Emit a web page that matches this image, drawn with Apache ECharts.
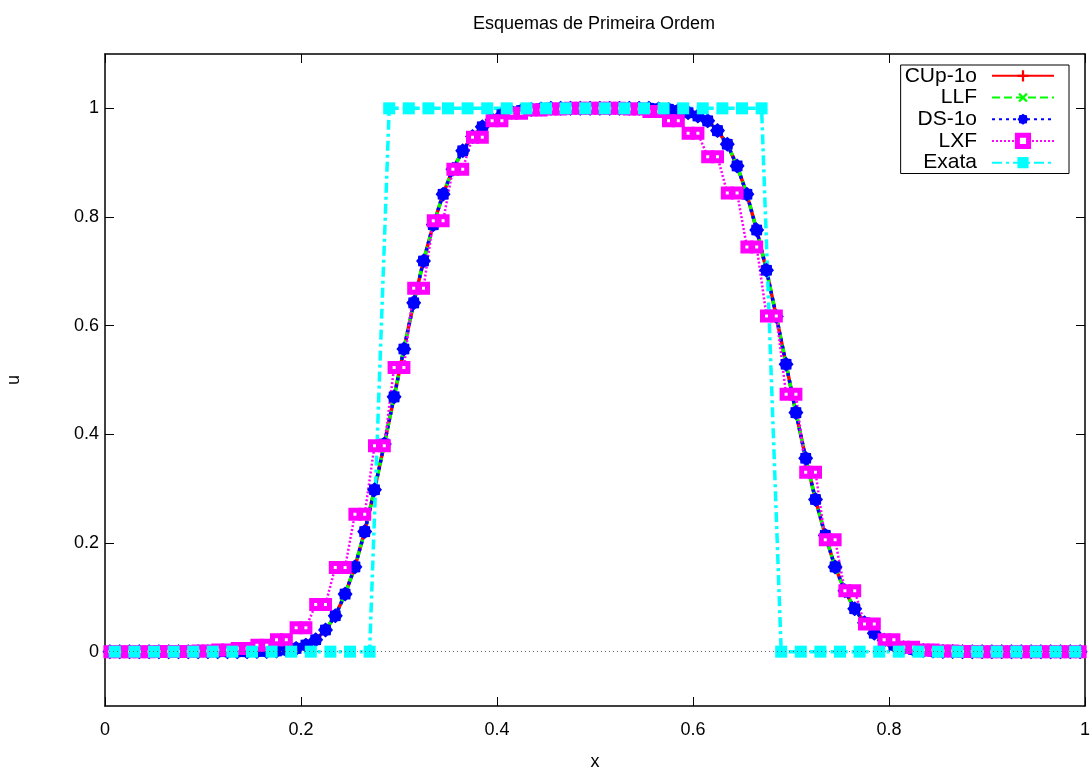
<!DOCTYPE html>
<html>
<head>
    <meta charset="utf-8"/>
    <style>
        html, body {
            padding: 0;
            margin: 0;
            background: #fff;
        }

        #main {
            width: 1092px;
            height: 772px;
        }
    </style>
    <script src="https://cdn.jsdelivr.net/npm/echarts@6/dist/echarts.min.js"></script>
</head>
<body>
<div id="main"></div>
<script>
    // malha de 100 celulas (centros)
    var xMalha = [
        0.005, 0.015, 0.025, 0.035, 0.045, 0.055, 0.065, 0.075, 0.085, 0.095,
        0.105, 0.115, 0.125, 0.135, 0.145, 0.155, 0.165, 0.175, 0.185, 0.195,
        0.205, 0.215, 0.225, 0.235, 0.245, 0.255, 0.265, 0.275, 0.285, 0.295,
        0.305, 0.315, 0.325, 0.335, 0.345, 0.355, 0.365, 0.375, 0.385, 0.395,
        0.405, 0.415, 0.425, 0.435, 0.445, 0.455, 0.465, 0.475, 0.485, 0.495,
        0.505, 0.515, 0.525, 0.535, 0.545, 0.555, 0.565, 0.575, 0.585, 0.595,
        0.605, 0.615, 0.625, 0.635, 0.645, 0.655, 0.665, 0.675, 0.685, 0.695,
        0.705, 0.715, 0.725, 0.735, 0.745, 0.755, 0.765, 0.775, 0.785, 0.795,
        0.805, 0.815, 0.825, 0.835, 0.845, 0.855, 0.865, 0.875, 0.885, 0.895,
        0.905, 0.915, 0.925, 0.935, 0.945, 0.955, 0.965, 0.975, 0.985, 0.995
    ];

    // CUp-1o, LLF e DS-1o ficam sobrepostos na figura
    var uCUp = [
        0, 0, 0, 0, 0, 0, 0, 0, 0, 0,
        0, 0, 0, 0, 0, 0.0002, 0.0005, 0.0012, 0.003, 0.006,
        0.012, 0.022, 0.040, 0.066, 0.106, 0.156, 0.221, 0.298, 0.382, 0.469,
        0.557, 0.642, 0.719, 0.786, 0.842, 0.888, 0.922, 0.948, 0.966, 0.979,
        0.988, 0.993, 0.996, 0.998, 0.999, 1, 1, 1, 1, 1,
        1, 1, 1, 1, 1, 1, 0.999, 0.998, 0.996, 0.992,
        0.986, 0.977, 0.959, 0.934, 0.894, 0.842, 0.776, 0.702, 0.617, 0.529,
        0.440, 0.356, 0.280, 0.214, 0.156, 0.112, 0.079, 0.053, 0.034, 0.021,
        0.012, 0.007, 0.004, 0.002, 0.001, 0.0005, 0.0002, 0, 0, 0,
        0, 0, 0, 0, 0, 0, 0, 0, 0, 0
    ];
    var uLLF = uCUp;
    var uDS = uCUp;

    // LXF: valores repetidos aos pares (desacoplamento par-impar)
    var uLXF = [
        0, 0, 0, 0, 0, 0.0001, 0.0001, 0.0004, 0.0004, 0.001,
        0.001, 0.003, 0.003, 0.006, 0.006, 0.012, 0.012, 0.022, 0.022, 0.044,
        0.044, 0.087, 0.087, 0.155, 0.155, 0.253, 0.253, 0.379, 0.379, 0.523,
        0.523, 0.669, 0.669, 0.793, 0.793, 0.888, 0.888, 0.947, 0.947, 0.977,
        0.977, 0.991, 0.991, 0.997, 0.997, 0.999, 0.999, 1, 1, 1,
        1, 1, 1, 0.999, 0.999, 0.994, 0.994, 0.977, 0.977, 0.954,
        0.954, 0.911, 0.911, 0.844, 0.844, 0.745, 0.745, 0.618, 0.618, 0.474,
        0.474, 0.330, 0.330, 0.206, 0.206, 0.112, 0.112, 0.051, 0.051, 0.022,
        0.022, 0.008, 0.008, 0.003, 0.003, 0.001, 0.001, 0.0003, 0.0003, 0,
        0, 0, 0, 0, 0, 0, 0, 0, 0, 0
    ];

    // solucao exata em 50 pontos
    var xExata = [
        0.01, 0.03, 0.05, 0.07, 0.09, 0.11, 0.13, 0.15, 0.17, 0.19,
        0.21, 0.23, 0.25, 0.27, 0.29, 0.31, 0.33, 0.35, 0.37, 0.39,
        0.41, 0.43, 0.45, 0.47, 0.49, 0.51, 0.53, 0.55, 0.57, 0.59,
        0.61, 0.63, 0.65, 0.67, 0.69, 0.71, 0.73, 0.75, 0.77, 0.79,
        0.81, 0.83, 0.85, 0.87, 0.89, 0.91, 0.93, 0.95, 0.97, 0.99
    ];
    var uExata = [
        0, 0, 0, 0, 0, 0, 0, 0, 0, 0,
        0, 0, 0, 0, 1, 1, 1, 1, 1, 1,
        1, 1, 1, 1, 1, 1, 1, 1, 1, 1,
        1, 1, 1, 1, 0, 0, 0, 0, 0, 0,
        0, 0, 0, 0, 0, 0, 0, 0, 0, 0
    ];

    var nomes = ['CUp-1o', 'LLF', 'DS-1o', 'LXF', 'Exata'];
    var yTicks = [0, 0.2, 0.4, 0.6, 0.8, 1];

    var simboloMais = 'path://M4,0H6V4H10V6H6V10H4V6H0V4H4Z';
    var simboloEstrela = 'path://M20,10L17.4,13.1L17.07,17.07L13.1,17.4L10,20L6.9,17.4L2.93,17.07L2.6,13.1L0,10L2.6,6.9L2.93,2.93L6.9,2.6L10,0L13.1,2.6L17.07,2.93L17.4,6.9Z';

    function pares(xs, us) {
        var out = [];
        for (var i = 0; i < xs.length; i++) {
            out.push([xs[i], us[i]]);
        }
        return out;
    }

    var fonte = 'Liberation Sans, Arial, sans-serif';

    function eixoX(pos, labels) {
        return {
            type: 'value', position: pos, min: 0, max: 1, interval: 0.2,
            name: labels ? 'x' : '', nameLocation: 'middle', nameGap: 47,
            nameTextStyle: {fontSize: 18, color: '#000', fontFamily: fonte},
            axisLine: {show: true, onZero: false, lineStyle: {color: '#000', width: 1.5}},
            axisTick: {show: true, inside: true, length: 9, lineStyle: {color: '#000'}},
            axisLabel: {show: labels, margin: 15, fontSize: 18, color: '#000', fontFamily: fonte},
            splitLine: {show: false}
        };
    }

    function eixoY(pos, labels) {
        return {
            type: 'value', position: pos, min: -0.1, max: 1.1,
            name: labels ? 'u' : '', nameLocation: 'middle', nameGap: 82, nameRotate: 90,
            nameTextStyle: {fontSize: 18, color: '#000', fontFamily: fonte},
            axisLine: {show: true, onZero: false, lineStyle: {color: '#000', width: 1.5}},
            axisTick: {show: true, inside: true, length: 9, customValues: yTicks, lineStyle: {color: '#000'}},
            axisLabel: {
                show: labels, margin: 6, fontSize: 18, color: '#000', fontFamily: fonte,
                customValues: yTicks,
                formatter: function (v) {
                    return String(+v.toFixed(1));
                }
            },
            splitLine: {show: false}
        };
    }

    var chart = echarts.init(document.getElementById('main'), null, {renderer: 'canvas'});
    chart.setOption({
        animation: false,
        backgroundColor: '#fff',
        textStyle: {fontFamily: fonte},
        graphic: [{
            type: 'text', x: 594, y: 24,
            style: {
                text: 'Esquemas de Primeira Ordem', fill: '#000', fontSize: 18, fontFamily: fonte,
                textAlign: 'center', textVerticalAlign: 'middle'
            }
        }],
        grid: {left: 105, right: 7, top: 54, bottom: 66, containLabel: false, outerBoundsMode: 'none'},
        xAxis: [eixoX('bottom', true), eixoX('top', false)],
        yAxis: [eixoY('left', true), eixoY('right', false)],
        legend: {
            orient: 'vertical', right: 23, top: 65,
            align: 'right', itemWidth: 62, itemHeight: 14, itemGap: 0,
            padding: [0, 14, 0, 4],
            borderColor: '#000', borderWidth: 1, borderRadius: 0,
            textStyle: {
                fontSize: 21, lineHeight: 21.7, color: '#000', fontFamily: fonte,
                width: 72, align: 'right', padding: [0, 10, 0, 0]
            },
            data: [
                nomes[0],
                nomes[1],
                nomes[2],
                {name: nomes[3], itemStyle: {color: '#fff', borderColor: '#ff00ff', borderWidth: 5}},
                nomes[4]
            ]
        },
        series: [{
            name: nomes[0], type: 'line', data: pares(xMalha, uCUp),
            color: '#ff0000', symbol: simboloMais, symbolSize: 11, showAllSymbol: true,
            lineStyle: {width: 3.5, type: 'solid'},
            markLine: {
                silent: true, symbol: ['none', 'none'], label: {show: false},
                lineStyle: {color: '#666', width: 1, type: [1, 3]},
                data: [{yAxis: 0}]
            }
        }, {
            name: nomes[1], type: 'line', data: pares(xMalha, uLLF),
            color: '#00ff00', symbol: simboloMais, symbolRotate: 45, symbolSize: 11, showAllSymbol: true,
            lineStyle: {width: 3.5, type: [8, 4]}
        }, {
            name: nomes[2], type: 'line', data: pares(xMalha, uDS),
            color: '#0000ff', symbol: simboloEstrela, symbolSize: 15, showAllSymbol: true,
            lineStyle: {width: 3.5, type: [3, 4]}
        }, {
            name: nomes[3], type: 'line', data: pares(xMalha, uLXF),
            color: '#ff00ff', symbol: 'rect', symbolSize: 8, showAllSymbol: true,
            itemStyle: {color: '#fff', borderColor: '#ff00ff', borderWidth: 5},
            lineStyle: {width: 2.5, color: '#ff00ff', type: [2, 2]}
        }, {
            name: nomes[4], type: 'line', data: pares(xExata, uExata),
            color: '#00ffff', symbol: 'rect', symbolSize: 12, showAllSymbol: true,
            lineStyle: {width: 3.5, type: [10, 4, 3, 4]}
        }]
    });
</script>
</body>
</html>
